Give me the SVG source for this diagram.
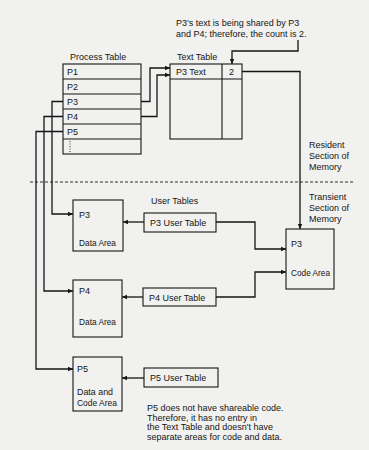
<svg xmlns="http://www.w3.org/2000/svg" width="369" height="450" viewBox="0 0 369 450">
<style>
  text { font-family: "Liberation Sans", Arial, sans-serif; font-size: 9px; fill: #151515; }
  .box { fill: none; stroke: #151515; stroke-width: 1.1; }
  .ln { fill: none; stroke: #151515; stroke-width: 1.3; }
  .arr { fill: none; stroke: #151515; stroke-width: 1.3; marker-end: url(#ah); }
  .dash { fill: none; stroke: #303030; stroke-width: 1; stroke-dasharray: 3 2; }
  .dot { fill: none; stroke: #303030; stroke-width: 1; stroke-dasharray: 1 1.5; }
</style>
<defs>
  <marker id="ah" markerWidth="6" markerHeight="6" refX="5" refY="3" orient="auto" markerUnits="userSpaceOnUse">
    <path d="M0,0.8 L5,3 L0,5.2 Z" fill="#151515"/>
  </marker>
</defs>
<rect x="0" y="0" width="369" height="450" fill="#f1f1ef"/>

<g id="annotation">
  <text x="176" y="26">P3's text is being shared by P3</text>
  <text x="176" y="37">and P4; therefore, the count is 2.</text>
</g>

<g id="process-table">
  <text x="70" y="60">Process Table</text>
  <rect class="box" x="63" y="64" width="78" height="90"/>
  <path class="box" d="M63,79 H141 M63,94 H141 M63,109 H141 M63,124 H141 M63,139 H141"/>
  <text x="67" y="75">P1</text>
  <text x="67" y="90">P2</text>
  <text x="67" y="105">P3</text>
  <text x="67" y="120">P4</text>
  <text x="67" y="135">P5</text>
  <path class="dot" d="M70,141 V153"/>
</g>

<g id="text-table">
  <text x="177" y="60">Text Table</text>
  <rect class="box" x="170" y="64" width="72" height="75"/>
  <path class="box" d="M170,79 H242 M222,64 V139"/>
  <text x="176" y="75">P3 Text</text>
  <text x="229" y="75">2</text>
</g>

<g id="memory-labels">
  <text x="309" y="148">Resident</text>
  <text x="309" y="159">Section of</text>
  <text x="309" y="170">Memory</text>
  <path class="dash" d="M30,182 H355"/>
  <text x="309" y="200">Transient</text>
  <text x="309" y="211">Section of</text>
  <text x="309" y="222">Memory</text>
</g>

<g id="p3-data">
  <rect class="box" x="73" y="200" width="50" height="51"/>
  <text x="79" y="218">P3</text>
  <text x="79" y="246" textLength="37" lengthAdjust="spacingAndGlyphs">Data Area</text>
</g>

<g id="p3-code">
  <rect class="box" x="286" y="229" width="48" height="60"/>
  <text x="291" y="247">P3</text>
  <text x="291" y="276" textLength="39" lengthAdjust="spacingAndGlyphs">Code Area</text>
</g>

<g id="p3-user-table">
  <text x="151" y="204">User Tables</text>
  <rect class="box" x="144" y="213" width="72" height="19"/>
  <text x="150" y="226">P3 User Table</text>
</g>

<g id="p4-data">
  <rect class="box" x="73" y="280" width="49" height="57"/>
  <text x="79" y="294">P4</text>
  <text x="79" y="325" textLength="37" lengthAdjust="spacingAndGlyphs">Data Area</text>
</g>

<g id="p4-user-table">
  <rect class="box" x="143" y="288" width="73" height="18"/>
  <text x="149" y="300.5">P4 User Table</text>
</g>

<g id="p5-area">
  <rect class="box" x="73" y="357" width="49" height="54"/>
  <text x="77" y="372">P5</text>
  <text x="77" y="395" textLength="36" lengthAdjust="spacingAndGlyphs">Data and</text>
  <text x="77" y="406" textLength="40" lengthAdjust="spacingAndGlyphs">Code Area</text>
</g>

<g id="p5-user-table">
  <rect class="box" x="144" y="368" width="74" height="19"/>
  <text x="150" y="381">P5 User Table</text>
</g>

<g id="p5-note">
  <text x="147" y="411">P5 does not have shareable code.</text>
  <text x="147" y="420.5">Therefore, it has no entry in</text>
  <text x="147" y="430">the Text Table and doesn't have</text>
  <text x="147" y="440">separate areas for code and data.</text>
</g>

<g id="connectors">
  <path class="arr" d="M298,40 V51 H232 V64"/>
  <path class="arr" d="M141,101.5 H150 V68 H170"/>
  <path class="arr" d="M141,116.5 H157 V75 H170"/>
  <path class="arr" d="M242,71.5 H300 V229"/>
  <path class="arr" d="M63,101.5 H52 V214 H73"/>
  <path class="arr" d="M63,116.5 H44 V291 H73"/>
  <path class="arr" d="M63,131.5 H36 V369 H73"/>
  <path class="arr" d="M144,222 H123"/>
  <path class="arr" d="M216,222 H255 V249 H286"/>
  <path class="arr" d="M143,297 H122"/>
  <path class="arr" d="M216,297 H255 V272 H286"/>
  <path class="arr" d="M144,378 H122"/>
</g>
</svg>
